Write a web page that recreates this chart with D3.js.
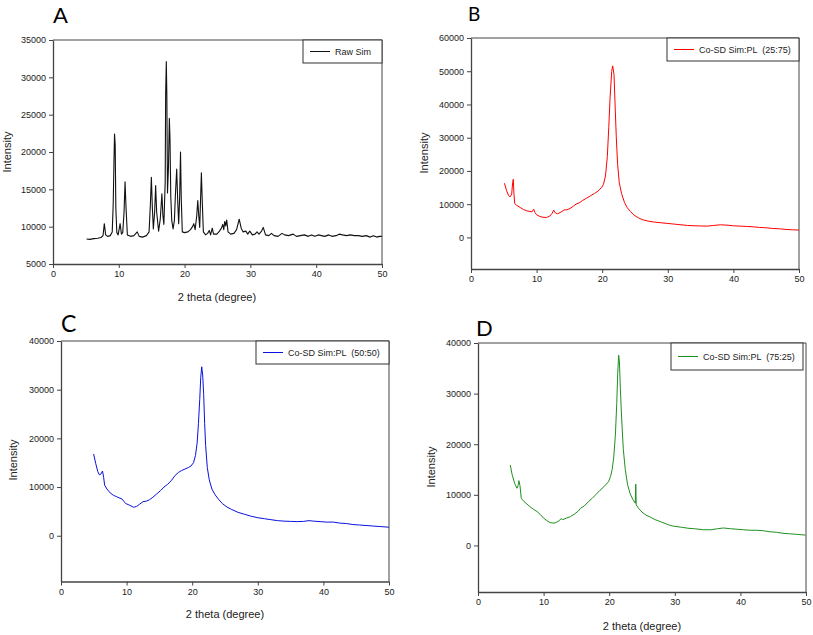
<!DOCTYPE html>
<html>
<head>
<meta charset="utf-8">
<script src="https://cdn.jsdelivr.net/npm/d3@7"></script>
<style>
  html, body { margin: 0; padding: 0; background: #fff; }
  svg { display: block; }
  .tick text { font-family: "Liberation Sans", Arial, sans-serif; font-size: 9px; fill: #222; }
  .tick line { stroke: #444; }
  .domain { stroke: #444; }
</style>
</head>
<body>
<svg id="chart" width="813" height="635"></svg>
<script>
// ---------- DATA ----------
const xTicks = [0, 10, 20, 30, 40, 50];
const yTicksA = [5000, 10000, 15000, 20000, 25000, 30000, 35000];
const yTicksB = [0, 10000, 20000, 30000, 40000, 50000, 60000];
const yTicksCD = [0, 10000, 20000, 30000, 40000];

const seriesNames = ["Raw Sim", "Co-SD Sim:PL  (25:75)", "Co-SD Sim:PL  (50:50)", "Co-SD Sim:PL  (75:25)"];
const panelLetters = ["A", "B", "C", "D"];

const rawSim = [
  [5.1,8350],[5.6,8300],[6.2,8400],[6.8,8450],[7.3,8550],[7.6,8800],[7.8,10400],[8.0,8900],[8.3,8700],[8.7,8800],
  [9.0,9300],[9.15,13000],[9.25,18000],[9.35,22400],[9.45,21000],[9.55,12500],[9.7,9200],[9.9,8900],[10.2,10400],[10.4,9000],
  [10.6,9200],[10.8,12000],[10.95,16000],[11.1,12500],[11.3,8900],[11.8,8700],[12.3,8800],[12.8,9300],[13.1,8700],[13.6,8600],
  [14.2,8800],[14.6,9300],[14.8,13000],[14.95,16600],[15.1,12500],[15.25,9700],[15.45,12000],[15.6,15500],[15.75,12000],[16.05,9400],
  [16.3,11000],[16.55,14400],[16.7,11500],[16.85,10300],[17.05,16000],[17.12,27700],[17.22,32100],[17.3,27700],[17.4,14500],[17.55,18000],
  [17.68,24500],[17.78,21800],[17.9,14000],[18.05,10800],[18.25,9700],[18.45,10800],[18.6,14200],[18.8,17700],[18.95,13500],[19.1,10400],
  [19.25,14000],[19.38,20000],[19.5,13500],[19.65,9300],[20.0,9200],[20.5,9300],[20.9,9600],[21.2,10000],[21.4,10400],[21.6,9600],
  [21.85,11500],[22.0,13500],[22.15,11500],[22.3,9900],[22.42,13500],[22.55,17200],[22.7,13000],[22.85,9300],[23.2,8900],[23.5,9100],
  [23.75,9500],[23.95,8900],[24.2,9800],[24.4,9000],[24.9,9000],[25.3,9400],[25.6,9800],[25.8,10300],[25.95,9600],[26.1,10700],
  [26.25,10100],[26.4,10900],[26.6,9300],[27.0,9000],[27.5,9100],[27.9,9600],[28.3,11000],[28.6,9800],[28.9,9300],[29.3,9400],
  [29.6,9000],[29.9,9400],[30.3,8900],[30.7,9000],[31.0,9300],[31.3,9000],[31.7,9400],[31.95,9900],[32.3,8900],[32.8,8800],
  [33.2,9100],[33.6,8800],[34.2,8700],[34.8,9100],[35.2,8900],[35.8,8800],[36.5,9000],[37.0,8700],[37.6,8800],[38.2,8900],
  [38.8,8700],[39.3,8900],[39.8,8700],[40.3,8900],[40.8,8800],[41.3,8700],[41.9,8900],[42.4,8700],[43.0,8800],[43.5,9000],
  [44.0,8900],[44.6,8800],[45.2,8900],[45.8,8800],[46.4,8800],[47.0,8700],[47.6,8800],[48.2,8600],[48.7,8800],[49.2,8600],
  [49.6,8700],[50.0,8700]
];

const coSD2575 = [
  [5.1,16300],[5.4,14200],[5.7,12700],[5.95,12200],[6.2,13000],[6.35,16500],[6.45,17500],[6.55,13000],[6.66,10200],[7.0,9600],
  [7.5,9000],[8.0,8400],[8.5,8000],[9.0,7800],[9.3,7700],[9.55,8500],[9.75,7500],[10.0,6800],[10.5,6300],[11.0,6050],
  [11.5,6000],[12.0,6400],[12.35,7200],[12.6,8200],[12.85,7400],[13.2,7100],[13.7,7600],[14.2,8300],[14.6,8300],[15.1,8700],
  [15.6,9400],[16.0,10000],[16.5,10400],[17.0,11100],[17.6,11800],[18.2,12500],[18.8,13200],[19.4,14000],[19.9,15000],[20.2,16000],
  [20.5,18500],[20.78,24300],[21.0,33000],[21.2,42000],[21.45,50000],[21.6,51600],[21.8,49000],[22.0,38000],[22.15,30000],[22.35,22000],
  [22.6,16500],[22.95,13200],[23.4,10500],[23.8,9000],[24.3,7800],[24.8,6800],[25.5,5900],[26.2,5300],[27.0,4900],[28.0,4600],
  [29.0,4400],[30.0,4200],[31.0,4000],[32.0,3800],[33.0,3600],[34.0,3500],[35.0,3450],[36.0,3400],[37.0,3600],[38.0,3800],
  [39.0,3700],[40.0,3500],[41.0,3400],[42.0,3300],[43.0,3200],[44.0,3000],[45.0,2900],[46.0,2700],[47.0,2600],[48.0,2400],
  [49.0,2300],[50.0,2200]
];

const coSD5050 = [
  [4.97,16800],[5.3,14800],[5.6,13200],[5.85,12500],[6.1,12700],[6.33,13300],[6.5,12000],[6.65,10400],[7.0,9600],[7.5,8800],
  [8.0,8300],[8.5,8000],[9.0,7700],[9.35,7500],[9.6,7000],[9.9,6600],[10.4,6300],[11.06,5850],[11.5,6000],[12.0,6500],
  [12.5,7000],[13.0,7100],[13.5,7400],[14.0,7900],[14.6,8600],[15.2,9300],[15.7,10000],[16.2,10500],[16.8,11300],[17.4,12400],
  [17.9,13000],[18.4,13400],[18.9,13700],[19.4,14000],[19.8,14300],[20.2,15000],[20.5,16500],[20.75,19000],[20.95,23000],[21.15,28000],
  [21.3,32500],[21.45,34700],[21.6,33000],[21.75,29000],[21.9,23000],[22.05,18500],[22.3,14000],[22.6,11500],[23.0,9600],[23.5,8400],
  [24.0,7500],[24.6,6600],[25.3,5900],[26.0,5400],[27.0,4800],[28.0,4400],[29.0,4000],[30.0,3700],[31.0,3500],[32.0,3300],
  [33.0,3100],[34.0,3000],[35.0,2950],[36.0,2900],[37.0,2950],[37.8,3100],[38.5,3000],[39.5,2900],[40.5,2800],[41.5,2800],
  [42.5,2600],[43.5,2500],[44.5,2300],[45.5,2200],[46.5,2100],[47.5,2000],[48.5,1900],[50.0,1750]
];

const coSD7525 = [
  [4.92,15900],[5.2,14000],[5.58,12300],[5.94,11300],[6.1,11800],[6.24,12800],[6.4,11800],[6.6,9300],[7.0,8700],[7.97,7600],
  [8.5,7100],[9.0,6700],[9.5,6100],[10.0,5400],[10.5,4900],[11.0,4500],[11.6,4400],[12.0,4600],[12.4,4900],[12.65,5300],
  [12.9,5100],[13.5,5400],[14.1,5700],[14.7,6200],[15.3,6800],[15.6,7300],[16.2,7800],[16.8,8600],[17.4,9300],[18.0,10100],
  [18.6,10900],[19.2,11600],[19.9,12600],[20.2,13600],[20.45,15000],[20.7,17500],[20.95,22000],[21.15,28000],[21.3,34000],[21.44,37600],
  [21.55,36500],[21.7,31000],[21.9,25000],[22.15,19000],[22.45,15000],[22.8,12000],[23.2,10200],[23.6,9100],[23.98,8350],[24.05,12100],
  [24.12,8000],[24.5,7300],[25.0,6600],[25.6,6000],[26.26,5600],[27.0,5100],[28.0,4600],[29.0,4100],[29.8,3800],[31.0,3600],
  [32.0,3400],[33.0,3300],[34.4,3100],[35.5,3100],[36.5,3300],[37.4,3450],[38.5,3300],[39.5,3200],[40.5,3100],[41.5,3000],
  [42.5,3000],[43.5,2900],[44.5,2700],[45.5,2600],[46.5,2400],[47.5,2300],[48.5,2200],[49.9,2050]
];

// ---------- LAYOUT ----------
const panels = [
  { data: rawSim,   name: seriesNames[0], letter: panelLetters[0], color: "#111111", width: 1.1,
    left: 53, right: 382, top: 40, bottom: 264, yDomain: [5000, 35000], yTicks: yTicksA,
    letterPos: [53, 23, 22], xTitle: [217, 301], yTitle: [11, 152],
    legend: { x: 303, y: 40, w: 79, h: 23 } },
  { data: coSD2575, name: seriesNames[1], letter: panelLetters[1], color: "#ff0000", width: 1,
    left: 471, right: 799, top: 38, bottom: 269, yDomain: [-9500, 60000], yTicks: yTicksB,
    letterPos: [468, 21, 19], xTitle: null, yTitle: [428, 153],
    legend: { x: 667, y: 38, w: 132, h: 23 } },
  { data: coSD5050, name: seriesNames[2], letter: panelLetters[2], color: "#0a10e0", width: 1,
    left: 61, right: 389, top: 341, bottom: 581.5, yDomain: [-9400, 40000], yTicks: yTicksCD,
    letterPos: [61, 332, 23], xTitle: [225, 618], yTitle: [17, 460],
    legend: { x: 256, y: 341, w: 133, h: 23 } },
  { data: coSD7525, name: seriesNames[3], letter: panelLetters[3], color: "#1f8f1f", width: 1,
    left: 478, right: 806, top: 343, bottom: 592, yDomain: [-9200, 40000], yTicks: yTicksCD,
    letterPos: [476, 336, 22], xTitle: [642, 630], yTitle: [435, 467],
    legend: { x: 671, y: 343, w: 132, h: 27 } }
];

const svg = d3.select("#chart");
const FONT = '"Liberation Sans", Arial, sans-serif';

panels.forEach(p => {
  const x = d3.scaleLinear().domain([0, 50]).range([p.left, p.right]);
  const y = d3.scaleLinear().domain(p.yDomain).range([p.bottom, p.top]);
  const g = svg.append("g");

  // data line
  g.append("path")
    .datum(p.data)
    .attr("fill", "none")
    .attr("stroke", p.color)
    .attr("stroke-width", p.width)
    .attr("stroke-linejoin", "round")
    .attr("d", d3.line().x(d => x(d[0])).y(d => y(d[1])));

  // frame (top and right)
  g.append("line").attr("x1", p.left).attr("x2", p.right).attr("y1", p.top).attr("y2", p.top)
    .attr("stroke", "#444").attr("stroke-width", 1);
  g.append("line").attr("x1", p.right).attr("x2", p.right).attr("y1", p.top).attr("y2", p.bottom)
    .attr("stroke", "#444").attr("stroke-width", 1);

  // axes
  g.append("g").attr("transform", `translate(0,${p.bottom})`)
    .call(d3.axisBottom(x).tickValues(xTicks).tickSize(4).tickSizeOuter(0).tickPadding(3))
    .call(a => a.select(".domain").attr("stroke-width", 1.3));
  g.append("g").attr("transform", `translate(${p.left},0)`)
    .call(d3.axisLeft(y).tickValues(p.yTicks).tickSize(4).tickSizeOuter(0).tickPadding(3).tickFormat(d3.format("d")))
    .call(a => a.select(".domain").attr("stroke-width", 1.3));

  // axis titles
  if (p.xTitle) {
    g.append("text").attr("x", p.xTitle[0]).attr("y", p.xTitle[1])
      .attr("text-anchor", "middle").attr("font-family", FONT).attr("font-size", 11)
      .attr("fill", "#222").text("2 theta (degree)");
  }
  g.append("text")
    .attr("transform", `translate(${p.yTitle[0]},${p.yTitle[1]}) rotate(-90)`)
    .attr("text-anchor", "middle").attr("font-family", FONT).attr("font-size", 11)
    .attr("fill", "#222").text("Intensity");

  // panel letter
  g.append("text").attr("x", p.letterPos[0]).attr("y", p.letterPos[1])
    .attr("font-family", "Lato, 'Open Sans', sans-serif").attr("font-size", p.letterPos[2])
    .attr("fill", "#000").text(p.letter);

  // legend
  const L = p.legend;
  g.append("rect").attr("x", L.x).attr("y", L.y).attr("width", L.w).attr("height", L.h)
    .attr("fill", "#fff").attr("stroke", "#333").attr("stroke-width", 1);
  const ly = L.y + L.h / 2;
  g.append("line").attr("x1", L.x + 7).attr("x2", L.x + 27).attr("y1", ly).attr("y2", ly)
    .attr("stroke", p.color).attr("stroke-width", 1);
  g.append("text").attr("x", L.x + 32).attr("y", ly + 3.2)
    .attr("font-family", FONT).attr("font-size", 9).attr("fill", "#222")
    .attr("xml:space", "preserve").style("white-space", "pre").text(p.name);
});
</script>
</body>
</html>
